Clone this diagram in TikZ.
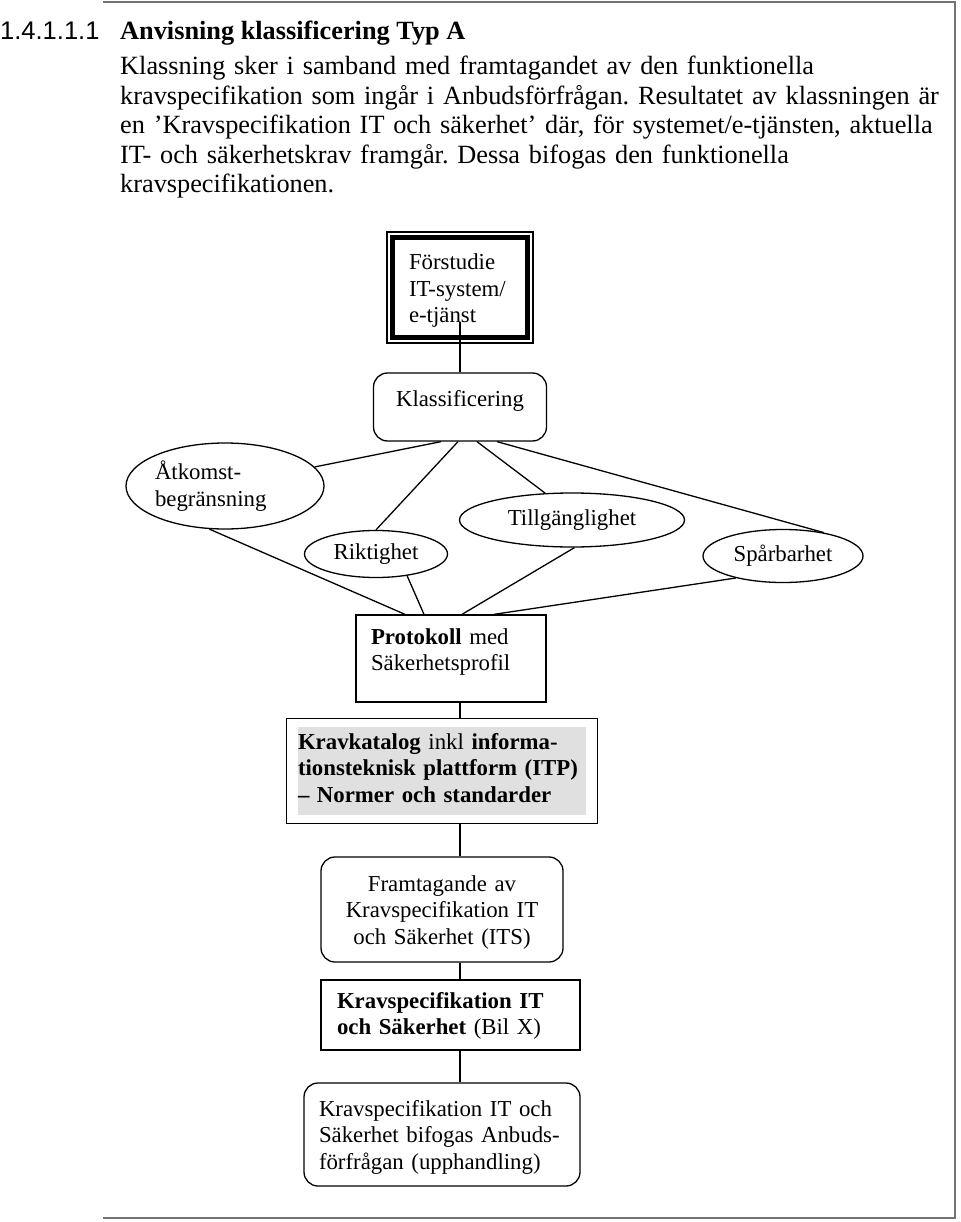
\documentclass[tikz,border=0pt]{standalone}
\usepackage{fontspec}
\setmainfont{Liberation Serif}
\newfontfamily\numfont{Liberation Sans}
\usetikzlibrary{shapes.geometric,fit}
\definecolor{framegray}{gray}{0.45}
\definecolor{katgray}{gray}{0.88}
\frenchspacing

\begin{document}
\begin{tikzpicture}[x=1pt,y=-1pt,
   every node/.style={font=\fontsize{22.8}{26.5}\selectfont},
   box/.style={draw,line width=1.3pt,inner ysep=0pt,anchor=base},
   rbox/.style={box,rounded corners=14pt},
   oval/.style={draw,ellipse,line width=1.3pt,inner sep=0pt},
   link/.style={line width=1.3pt}]
\useasboundingbox (0,0) rectangle (960,1222);
\draw[framegray,line width=2.5pt] (103,2) -- (955,2) -- (955,1218) -- (103,1218);

% heading and text
\node[anchor=base west,inner sep=0pt,font=\numfont\fontsize{25.5}{29.5}\selectfont] (num) at (0,40) {1.4.1.1.1};
\node[anchor=base west,inner sep=0pt,font=\bfseries\fontsize{26.3}{29.5}\selectfont] (head) at (120,40) {Anvisning klassificering Typ A};
\node[anchor=base west,inner sep=0pt,text width=850pt,align=left,font=\fontsize{26.3}{29.5}\selectfont] (intro) at (120,75)
   {Klassning sker i samband med framtagandet av den funktionella\\
    kravspecifikation som ingår i Anbudsförfrågan. Resultatet av klassningen är\\
    en ’Kravspecifikation IT och säkerhet’ där, för systemet/e-tjänsten, aktuella\\
    IT- och säkerhetskrav framgår. Dessa bifogas den funktionella\\
    kravspecifikationen.};

% boxes
\node[box,line width=5pt,align=left,text width=102pt,inner xsep=16.5pt,text height=32.5pt,text depth=67.5pt] (pre) at (460,270)
   {Förstudie\\IT-system/\\e-tjänst};
\draw[line width=1.2pt] ([shift={(-3,-3)}]pre.north west) rectangle ([shift={(3,3)}]pre.south east);
\node[rbox,align=center,text width=157pt,inner xsep=8pt,text height=33pt,text depth=35pt] (kla) at (460,406) {Klassificering};

\node[oval,minimum width=193pt,minimum height=86pt,text width=140pt,align=left] (atk) at (225,486) {Åtkomst-\\begränsning};
\node[oval,minimum width=143pt,minimum height=47pt] (rik) at (376,554) {Riktighet};
\node[oval,minimum width=225pt,minimum height=54pt] (til) at (572,520) {Tillgänglighet};
\node[oval,minimum width=160pt,minimum height=53pt] (spa) at (783,556) {Spårbarhet};

\node[box,align=left,text width=160pt,inner xsep=15pt,text height=29pt,text depth=58pt] (pro) at (451,644)
   {\textbf{Protokoll} med\\Säkerhetsprofil};
\node[anchor=base,fill=katgray,align=left,text width=288pt,inner xsep=0pt,inner ysep=0pt,text height=22pt,text depth=66pt] (kat) at (442,749)
   {\textbf{Kravkatalog} inkl \textbf{informa-}\\\textbf{tionsteknisk plattform (ITP)}\\\textbf{– Normer och standarder}};
\node[draw,line width=1.3pt,fit=(kat),inner xsep=11pt,inner ysep=8pt] (katbox) {};
\node[rbox,align=center,text width=222pt,inner xsep=10pt,text height=34pt,text depth=71pt] (fram) at (442,891)
   {Framtagande av\\Kravspecifikation IT\\och Säkerhet (ITS)};
\node[box,align=left,text width=227pt,inner xsep=16pt,text height=28pt,text depth=42pt] (its) at (450.5,1008)
   {\textbf{Kravspecifikation IT}\\\textbf{och Säkerhet} (Bil X)};
\node[rbox,align=left,text width=246pt,inner xsep=15pt,text height=33pt,text depth=70pt] (bif) at (442,1116)
   {Kravspecifikation IT och\\Säkerhet bifogas Anbuds-\\förfrågan (upphandling)};

% connectors
\coordinate (axis) at (460,0);
\coordinate (pretail) at (460,322);
\draw[link] (pretail) -- (kla.north);
\draw[link] ([xshift=-19]kla.south) -- (atk.12);
\draw[link] ([xshift=-2]kla.south) -- (rik.north);
\draw[link] ([xshift=17]kla.south) -- (til.135);
\draw[link] ([xshift=37]kla.south) -- (spa.30);
\draw[link] (atk.250) -- ([xshift=-46]pro.north);
\draw[link] (rik.325) -- ([xshift=-27]pro.north);
\draw[link] (til.275) -- ([xshift=11]pro.north);
\draw[link] (spa.205) -- ([xshift=43]pro.north);
\draw[link] (pro.south -| axis) -- (katbox.north -| axis);
\draw[link] (katbox.south -| axis) -- (fram.north -| axis);
\draw[link] (fram.south -| axis) -- (its.north -| axis);
\draw[link] (its.south -| axis) -- (bif.north -| axis);
\end{tikzpicture}
\end{document}
